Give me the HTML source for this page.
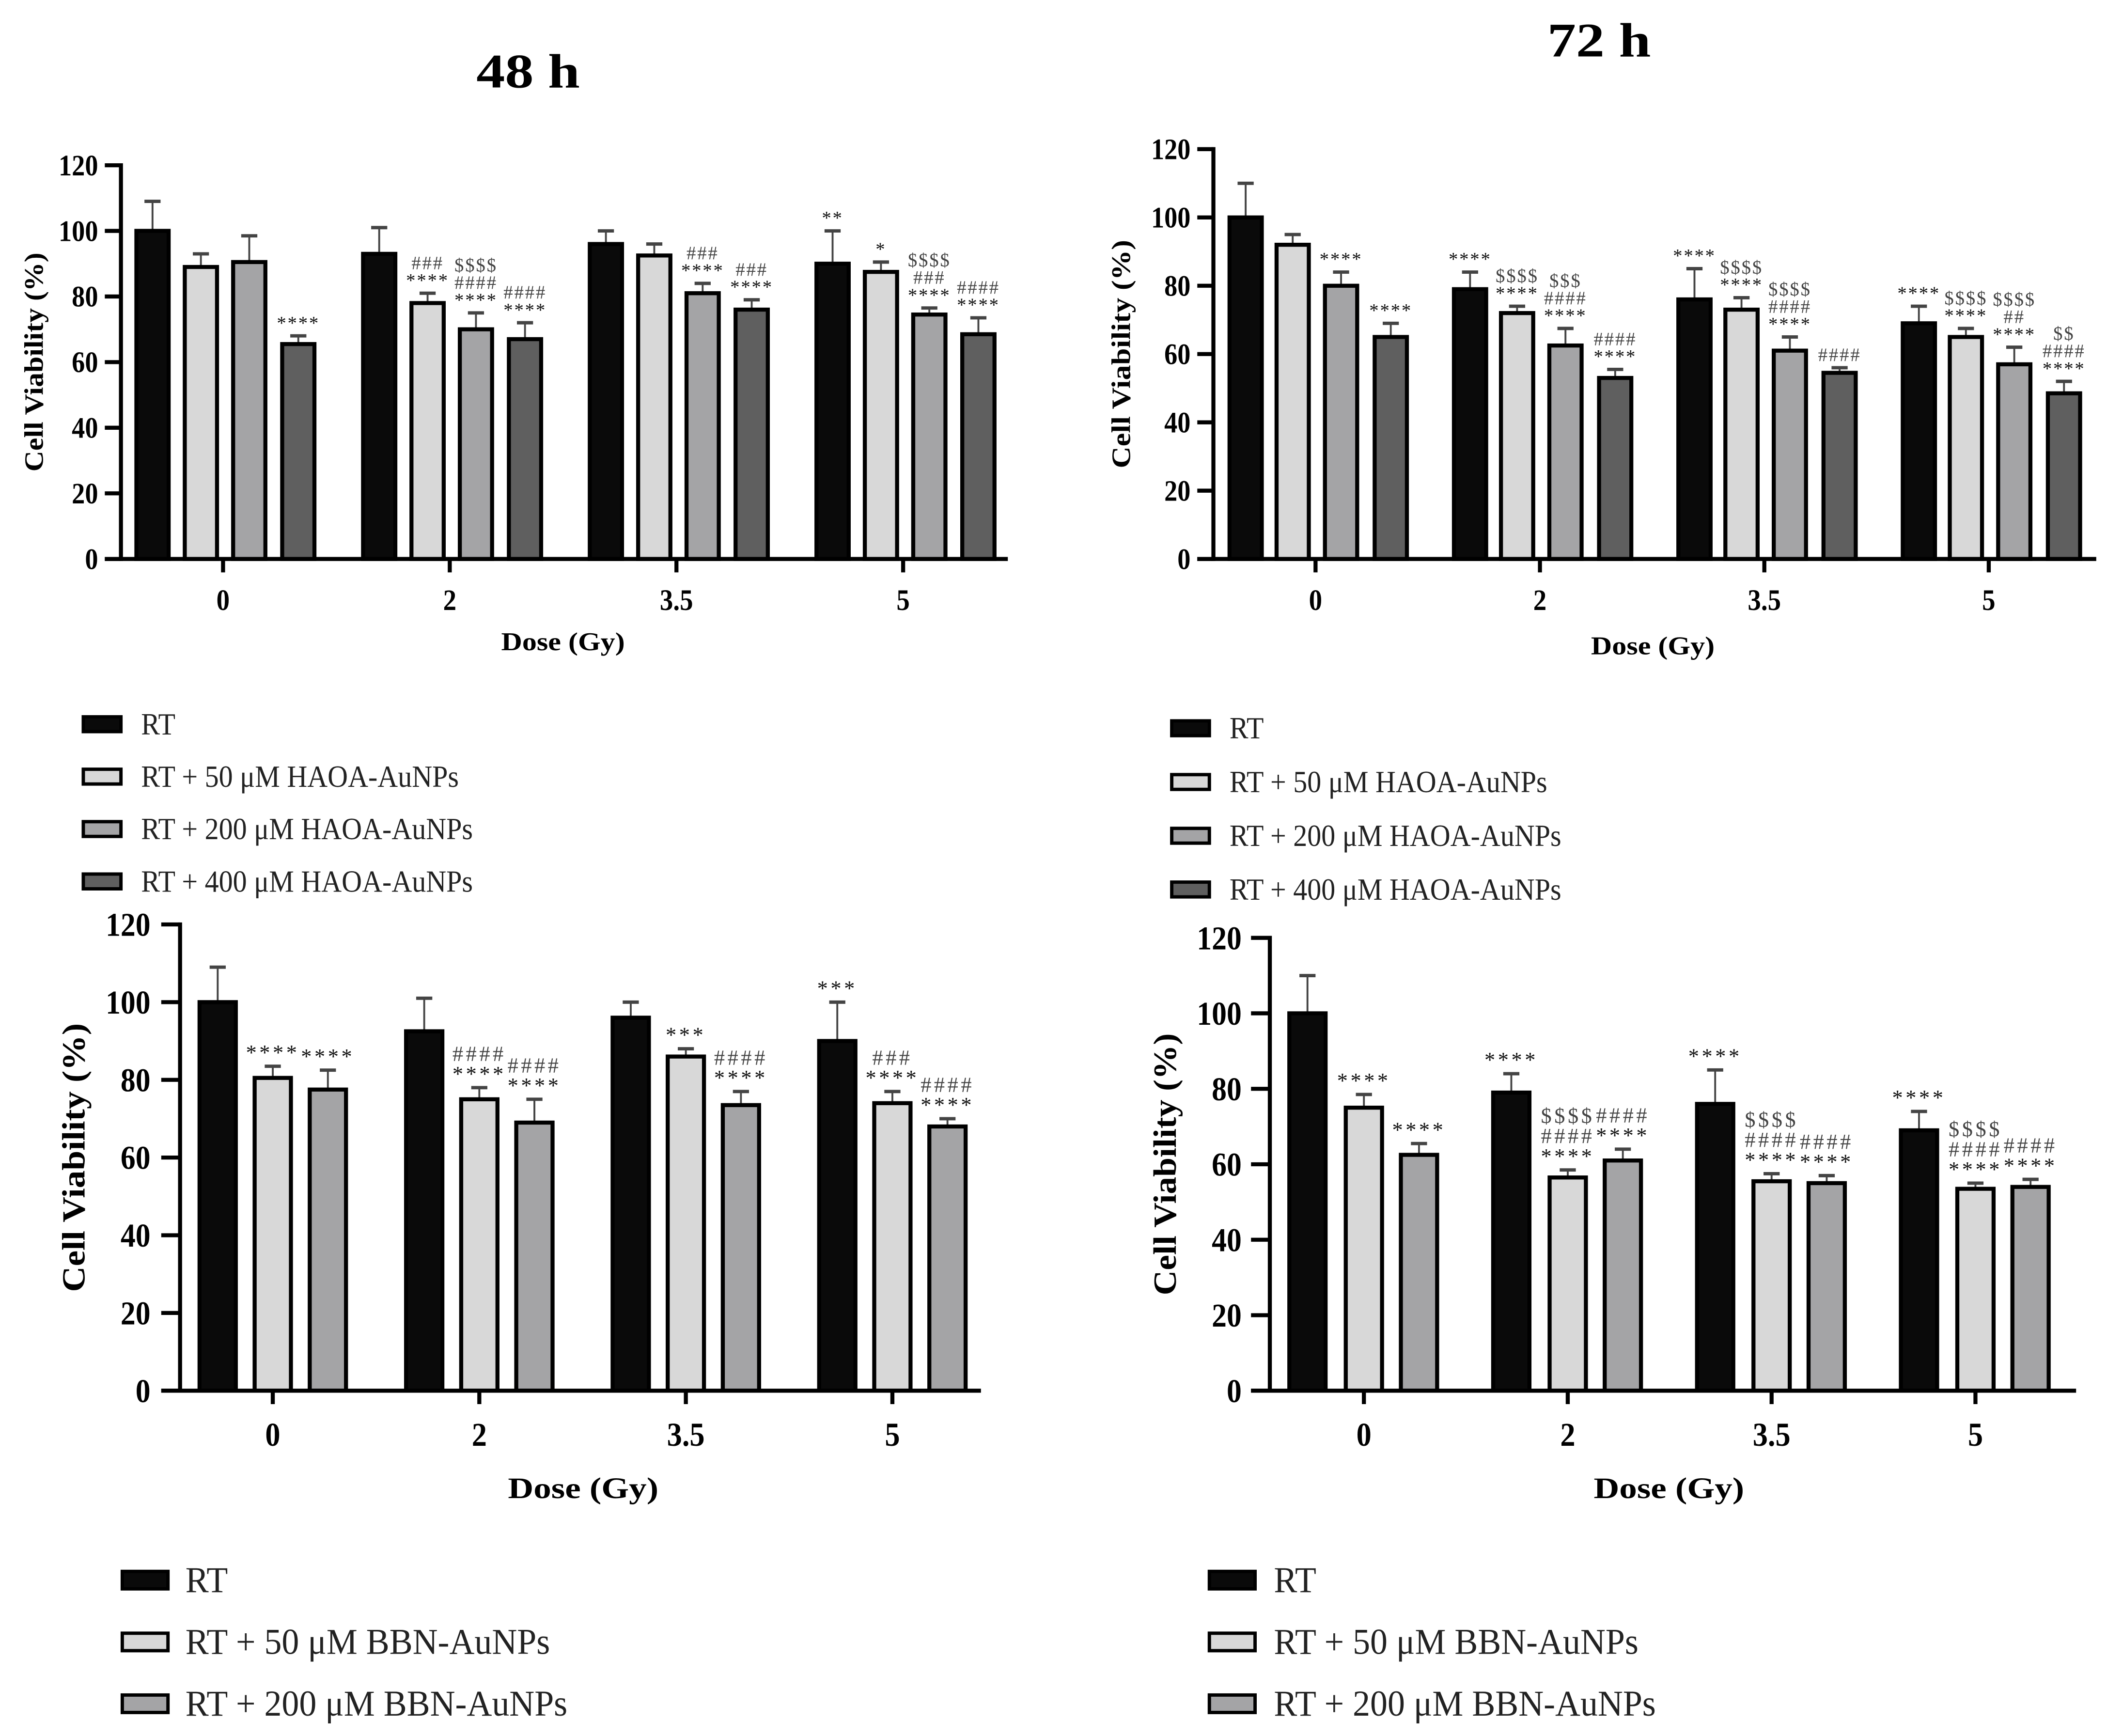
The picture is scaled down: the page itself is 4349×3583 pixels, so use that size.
<!DOCTYPE html>
<html><head><meta charset="utf-8">
<style>
html,body{margin:0;padding:0;background:#fff;}
svg{display:block;}
text{font-family:"Liberation Serif","Times New Roman",serif;}
</style></head>
<body>
<svg id="fig" width="4349" height="3583" viewBox="0 0 1568 1292" preserveAspectRatio="none" xmlns="http://www.w3.org/2000/svg">
<text x="393" y="65" font-size="36" font-weight="bold" text-anchor="middle" textLength="77" lengthAdjust="spacingAndGlyphs">48 h</text>
<text x="1190" y="42" font-size="36" font-weight="bold" text-anchor="middle" textLength="77" lengthAdjust="spacingAndGlyphs">72 h</text>
</svg>
<script>
// ---------- Data ----------
const doses = ["0","2","3.5","5"];
const yTicks = [0,20,40,60,80,100,120];
const haoaLabels = ["RT","RT + 50 \u03bcM HAOA-AuNPs","RT + 200 \u03bcM HAOA-AuNPs","RT + 400 \u03bcM HAOA-AuNPs"];
const bbnLabels = ["RT","RT + 50 \u03bcM BBN-AuNPs","RT + 200 \u03bcM BBN-AuNPs"];
const p1Values = [[100,93,96,90],[89,78,92.5,87.5],[90.5,70,81,74.5],[65.5,67,76,68.5]];
const p1Errors = [[9,8,4,10],[4,3,3.5,3],[8,5,3,2],[2.5,5,3,5]];
const p1Ann = [[[],[],[],["**"]],[[],["****","###"],[],["*"]],[[],["****","####","$$$$"],["****","###"],["****","###","$$$$"]],[["****"],["****","####"],["****","###"],["****","####"]]];
const p2Values = [[100,79,76,69],[92,72,73,65],[80,62.5,61,57],[65,53,54.5,48.5]];
const p2Errors = [[10,5,9,5],[3,2,3.5,2.5],[4,5,4,5],[4,2.5,1.5,3.5]];
const p2Ann = [[[],["****"],["****"],["****"]],[[],["****","$$$$"],["****","$$$$"],["****","$$$$"]],[["****"],["****","####","$$$"],["****","####","$$$$"],["****","##","$$$$"]],[["****"],["****","####"],["####"],["****","####","$$"]]];
const p3Values = [[100,92.5,96,90],[80.5,75,86,74],[77.5,69,73.5,68]];
const p3Errors = [[9,8.5,4,10],[3,3,2,3],[5,6,3.5,2]];
const p3Ann = [[[],[],[],["***"]],[["****"],["****","####"],["***"],["****","###"]],[["****"],["****","####"],["****","####"],["****","####"]]];
const p4Values = [[100,79,76,69],[75,56.5,55.5,53.5],[62.5,61,55,54]];
const p4Errors = [[10,5,9,5],[3.5,2,2,1.5],[3,3,2,2]];
const p4Ann = [[[],["****"],["****"],["****"]],[["****"],["****","####","$$$$"],["****","####","$$$$"],["****","####","$$$$"]],[["****"],["****","####"],["****","####"],["****","####"]]];
const fills4 = ["#0a0a0a","#d8d8d8","#a4a4a6","#5f5f5f"];

const NS="http://www.w3.org/2000/svg";
const svg=document.getElementById('fig');
function mk(tag,attrs,parent){const e=document.createElementNS(NS,tag);for(const k in attrs)e.setAttribute(k,attrs[k]);(parent||svg).appendChild(e);return e;}
function squeeze(el,f){const L=el.getComputedTextLength();if(L>0){el.setAttribute('textLength',L*f);el.setAttribute('lengthAdjust','spacingAndGlyphs');}}

function panel(cfg){
  const g=mk('g',{});
  
  
  const y=v=>cfg.y0-(v/120)*(cfg.y0-cfg.y120);
  const x=i=>cfg.gx0+i*cfg.gstep;
  cfg.values.forEach((ser,s)=>{
    ser.forEach((v,i)=>{
      const cx=x(i)+cfg.offsets[s];
      const top=y(v), eTop=y(v+cfg.errors[s][i]);
      const ln=mk('line',{x1:cx,x2:cx,y1:top,y2:eTop,stroke:'#444','stroke-width':1.4},g);
      
      
      const cap=mk('line',{x1:cx-6,x2:cx+6,y1:eTop,y2:eTop,stroke:'#444','stroke-width':2.5},g);
      
      
      const r=mk('rect',{x:cx-cfg.bw/2,y:top,width:cfg.bw,height:cfg.y0-top,fill:cfg.fills[s],stroke:'#000','stroke-width':3},g);
      
      
      cfg.ann[s][i].forEach((t,k)=>{
        const tx=mk('text',{x:cx,y:eTop-5-k*cfg.af,'font-size':cfg.afs,'letter-spacing':cfg.als,'text-anchor':'middle',fill:t[0]==='*'?'#111':'#444'},g);
        tx.textContent=t;
        
        
      });
    });
  });
  const ya=mk('line',{x1:cfg.ax,x2:cfg.ax,y1:cfg.y120-1.5,y2:cfg.y0+1.5,stroke:'#000','stroke-width':3},g);
  
  
  const xa=mk('line',{x1:cfg.ax-cfg.tl,x2:cfg.xend,y1:cfg.y0,y2:cfg.y0,stroke:'#000','stroke-width':3},g);
  
  
  yTicks.forEach(t=>{
    mk('line',{x1:cfg.ax-cfg.tl,x2:cfg.ax,y1:y(t),y2:y(t),stroke:'#000','stroke-width':3},g);
    const tx=mk('text',{x:cfg.labR,y:y(t)+cfg.tf*0.34,'font-size':cfg.tf,'font-weight':'bold','text-anchor':'end'},g);
    tx.textContent=t;
    
    
    squeeze(tx,0.89);
  });
  doses.forEach((d,i)=>{
    mk('line',{x1:x(i),x2:x(i),y1:cfg.y0,y2:cfg.y0+10,stroke:'#000','stroke-width':3},g);
    const tx=mk('text',{x:x(i),y:cfg.y0+cfg.tf+16,'font-size':cfg.tf,'font-weight':'bold','text-anchor':'middle'},g);
    tx.textContent=d;
    
    
    squeeze(tx,0.9);
  });
  const xt=mk('text',{x:cfg.xtX,y:cfg.y0+cfg.xtOff,'font-size':cfg.xtf,'font-weight':'bold','text-anchor':'middle',textLength:cfg.xtLen,lengthAdjust:'spacingAndGlyphs'},g);
  xt.textContent='Dose (Gy)';
  
  
  const ycx=cfg.ax-cfg.ytOff, ycy=(cfg.y0+cfg.y120)/2;
  const yt=mk('text',{x:ycx,y:ycy,'font-size':cfg.ytf,'font-weight':'bold','text-anchor':'middle',textLength:cfg.ytLen,lengthAdjust:'spacingAndGlyphs',transform:`rotate(-90 ${ycx} ${ycy})`},g);
  yt.textContent='Cell Viability (%)';
  
  
  cfg.labels.forEach((l,s)=>{
    const ly=cfg.ly+s*cfg.lstep;
    const r=mk('rect',{x:cfg.lx,y:ly-cfg.lh/2,width:cfg.lw,height:cfg.lh,fill:cfg.fills[s],stroke:'#000','stroke-width':2.5},g);
    
    
    const tx=mk('text',{x:cfg.ltx,y:ly+cfg.lf*0.33,'font-size':cfg.lf,fill:'#222'},g);
    tx.textContent=l;
    
    
    squeeze(tx,cfg.lsq);
  });
}

panel({name:'chart-48h-haoa',tag:'p1',values:p1Values,errors:p1Errors,ann:p1Ann,fills:fills4,labels:haoaLabels,
  ax:90,tl:12,labR:73,xend:750,y0:416,y120:123,gx0:166,gstep:168.7,offsets:[-52.5,-16.5,19.5,56],bw:24,
  af:13,afs:14,als:1,tf:22,xtf:19,xtLen:92,xtX:419,xtOff:68,ytf:20,ytLen:163,ytOff:58,
  lx:62,ltx:105,ly:539,lstep:39,lw:28,lh:11,lf:23,lsq:0.91});
panel({name:'chart-72h-haoa',tag:'p2',values:p2Values,errors:p2Errors,ann:p2Ann,fills:fills4,labels:haoaLabels,
  ax:903,tl:12,labR:886,xend:1560,y0:416,y120:111,gx0:979,gstep:167,offsets:[-52,-17,19,56],bw:24,
  af:13,afs:14,als:1,tf:22,xtf:19,xtLen:92,xtX:1230,xtOff:71,ytf:20,ytLen:170,ytOff:62,
  lx:872,ltx:915,ly:542,lstep:40,lw:28,lh:11,lf:23,lsq:0.91});
panel({name:'chart-48h-bbn',tag:'p3',values:p3Values,errors:p3Errors,ann:p3Ann,fills:fills4,labels:bbnLabels,
  ax:134,tl:14,labR:112,xend:730,y0:1035,y120:688,gx0:203,gstep:153.7,offsets:[-41,0,41],bw:27,
  af:15,afs:16,als:2,tf:25,xtf:22,xtLen:112,xtX:434,xtOff:80,ytf:24,ytLen:200,ytOff:71,
  lx:91,ltx:138,ly:1176,lstep:46,lw:34,lh:13,lf:27,lsq:0.96});
panel({name:'chart-72h-bbn',tag:'p4',values:p4Values,errors:p4Errors,ann:p4Ann,fills:fills4,labels:bbnLabels,
  ax:945,tl:14,labR:924,xend:1545,y0:1035,y120:698,gx0:1015,gstep:151.7,offsets:[-42,0,41],bw:27,
  af:15,afs:16,als:2,tf:25,xtf:22,xtLen:112,xtX:1242,xtOff:80,ytf:24,ytLen:195,ytOff:70,
  lx:900,ltx:948,ly:1176,lstep:46,lw:34,lh:13,lf:27,lsq:0.96});
</script>
</body></html>
